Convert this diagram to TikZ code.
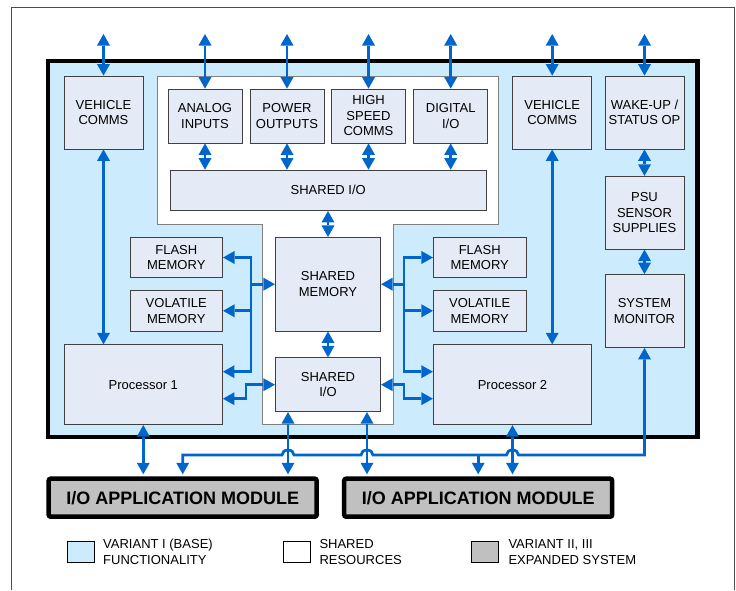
\documentclass[tikz,border=0pt]{standalone}
\usepackage{fontspec}
\setmainfont{Liberation Sans}
\usepackage{tikz}
\usetikzlibrary{arrows.meta}

\definecolor{baseblue}{RGB}{204,235,252}
\definecolor{boxfill}{RGB}{228,235,246}
\definecolor{modgray}{RGB}{192,192,192}
\definecolor{linkblue}{RGB}{0,102,204}

\begin{document}
\begin{tikzpicture}[x=1pt, y=-1pt,
  >={Triangle[width=13pt,length=11.5pt,line width=0pt]},
  blk/.style={draw=black!75, line width=0.8pt, fill=boxfill, align=center, inner sep=1pt, font=\fontsize{13}{15.5}\selectfont},
  small/.style={blk, minimum width=74pt, minimum height=54pt},
  tall/.style={blk, minimum width=79pt, minimum height=73pt},
  mem/.style={blk, minimum width=92.7pt, minimum height=40.4pt},
  proc/.style={blk, minimum width=158.5pt, minimum height=80pt},
  iomod/.style={draw=black, line width=4.5pt, rounded corners=2pt, fill=modgray, minimum width=268pt, minimum height=38pt, font=\fontsize{18}{20}\selectfont\bfseries},
  key/.style={draw=black, line width=1pt, minimum width=27pt, minimum height=21pt, inner sep=0pt},
  keytext/.style={anchor=west, align=left, inner sep=0pt, font=\fontsize{13}{16}\selectfont},
  link/.style={draw=linkblue, line width=2.8pt},
  tomod/.style={shorten >=2.2pt}]
\useasboundingbox (0,0) rectangle (736,590);

% draw page frame
\draw[black!70, line width=0.8pt] (11.7,590) -- (11.7,7) -- (734,7) -- (734,590);

% draw base variant area
\draw[fill=baseblue, line width=4.5pt] (48.2,60.8) rectangle (697.5,437);

% draw shared resources area
\draw[draw=gray, fill=white, line width=0.8pt] (157,76) -- (498.5,76) -- (498.5,224) -- (393,224) -- (393,424.3) -- (262,424.3) -- (262,224) -- (157,224) -- cycle;

% left side
\node[tall] (vcommsL) at (103.5,112.5) {VEHICLE\\COMMS};
\node[mem] (flashL) at (176.3,257.5) {FLASH\\MEMORY};
\node[mem] (volL) at (176.3,310.8) {VOLATILE\\MEMORY};
\node[proc] (proc1) at (143.3,384.7) {Processor 1};

% shared resources
\node[small] (analog) at (205,116) {ANALOG\\INPUTS};
\node[small] (power) at (287,116) {POWER\\OUTPUTS};
\node[small] (hscomms) at (368.5,116) {HIGH\\SPEED\\COMMS};
\node[small] (digital) at (450.7,116) {DIGITAL\\I/O};
\node[blk, minimum width=316.5pt, minimum height=40.5pt] (sharedio) at (328.2,190.3) {SHARED I/O};
\node[blk, minimum width=105.4pt, minimum height=93.7pt] (sharedmem) at (328,284.2) {SHARED\\MEMORY};
\node[blk, minimum width=105.4pt, minimum height=54pt] (sharedio2) at (328,384.7) {SHARED\\I/O};

% right side
\node[mem] (flashR) at (479.7,257.5) {FLASH\\MEMORY};
\node[mem] (volR) at (479.7,310.8) {VOLATILE\\MEMORY};
\node[proc] (proc2) at (512.5,384.7) {Processor 2};
\node[tall] (vcommsR) at (552.2,112.5) {VEHICLE\\COMMS};
\node[tall] (wakeup) at (644.5,112.5) {WAKE-UP /\\STATUS OP};
\node[tall] (psu) at (644.5,212.7) {PSU\\SENSOR\\SUPPLIES};
\node[tall] (sysmon) at (644.5,311) {SYSTEM\\MONITOR};

% expansion modules
\node[iomod] (ioL) at (182.7,497.7) {I/O APPLICATION MODULE};
\node[iomod] (ioR) at (478.2,497.7) {I/O APPLICATION MODULE};

% helper coordinates
\coordinate (ext) at (0,34);
\coordinate (busL) at (251,0);
\coordinate (busR) at (404,0);
\coordinate (hbus) at (0,455);
\coordinate (sioA) at ([xshift=-40pt]sharedio2.south);
\coordinate (sioB) at ([xshift=39pt]sharedio2.south);

% external links
\foreach \n in {vcommsL, analog, power, hscomms, digital, vcommsR, wakeup}{
\draw[link, <->] (\n.north |- ext) -- (\n.north);
}

% links to shared I/O
\foreach \n in {analog, power, hscomms, digital}{
\draw[link, <->] (\n.south) -- (\n.south |- sharedio.north);
}
\draw[link, <->] (sharedmem.north |- sharedio.south) -- (sharedmem.north);
\draw[link, <->] (sharedmem.south) -- (sharedio2.north);
\draw[link, <->] (wakeup.south) -- (psu.north);
\draw[link, <->] (psu.south) -- (sysmon.north);
\draw[link, <->] (vcommsL.south) -- (vcommsL.south |- proc1.north);
\draw[link, <->] (vcommsR.south) -- (vcommsR.south |- proc2.north);

% memory buses
\draw[link, <->] (flashL.east) -- (flashL.east -| busL) |- ([yshift=13pt]proc1.east);
\draw[link, ->] (busL |- volL.east) -- (volL.east);
\draw[link, ->] (busL |- sharedmem.west) -- (sharedmem.west);
\draw[link, <->] ([yshift=-14pt]proc1.east) -| ([xshift=-29pt]sharedio2.west) -- (sharedio2.west);
%
\draw[link, <->] (flashR.west) -- (flashR.west -| busR) |- ([yshift=13pt]proc2.west);
\draw[link, ->] (busR |- volR.west) -- (volR.west);
\draw[link, ->] (busR |- sharedmem.east) -- (sharedmem.east);
\draw[link, <->] (sharedio2.east) -- (sharedio2.east -| busR) |- ([yshift=-14pt]proc2.west);

% links to expansion modules
\draw[link, <->, tomod] (proc1.south) -- (proc1.south |- ioL.north);
\draw[link, <->, tomod] (sioA) -- (sioA |- ioL.north);
\draw[link, <->, tomod] (sioB) -- (sioB |- ioR.north);
\draw[link, <->, tomod] (proc2.south) -- (proc2.south |- ioR.north);

% system monitor bus
\draw[link, <->, tomod] (sysmon.south) -- (sysmon.south |- hbus)
  -- (518.5,455) arc[start angle=0, end angle=180, x radius=6pt, y radius=5pt]
  -- (373,455) arc[start angle=0, end angle=180, x radius=6pt, y radius=5pt]
  -- (294,455) arc[start angle=0, end angle=180, x radius=6pt, y radius=5pt]
  -- (ioL.north |- hbus) -- (ioL.north);
\draw[link, ->, tomod] (ioR.north |- hbus) -- (ioR.north);

% legend
\node[key, fill=baseblue] (keybase) at (80.5,552.2) {};
\node[keytext] (keybasetxt) at (103,552.2) {VARIANT I (BASE)\\FUNCTIONALITY};
\node[key, fill=white] (keyshared) at (296.5,552.2) {};
\node[keytext] (keysharedtxt) at (319.3,552.2) {SHARED\\RESOURCES};
\node[key, fill=modgray] (keyexp) at (485.3,552.2) {};
\node[keytext] (keyexptxt) at (508.3,552.2) {VARIANT II, III\\EXPANDED SYSTEM};

\end{tikzpicture}
\end{document}
